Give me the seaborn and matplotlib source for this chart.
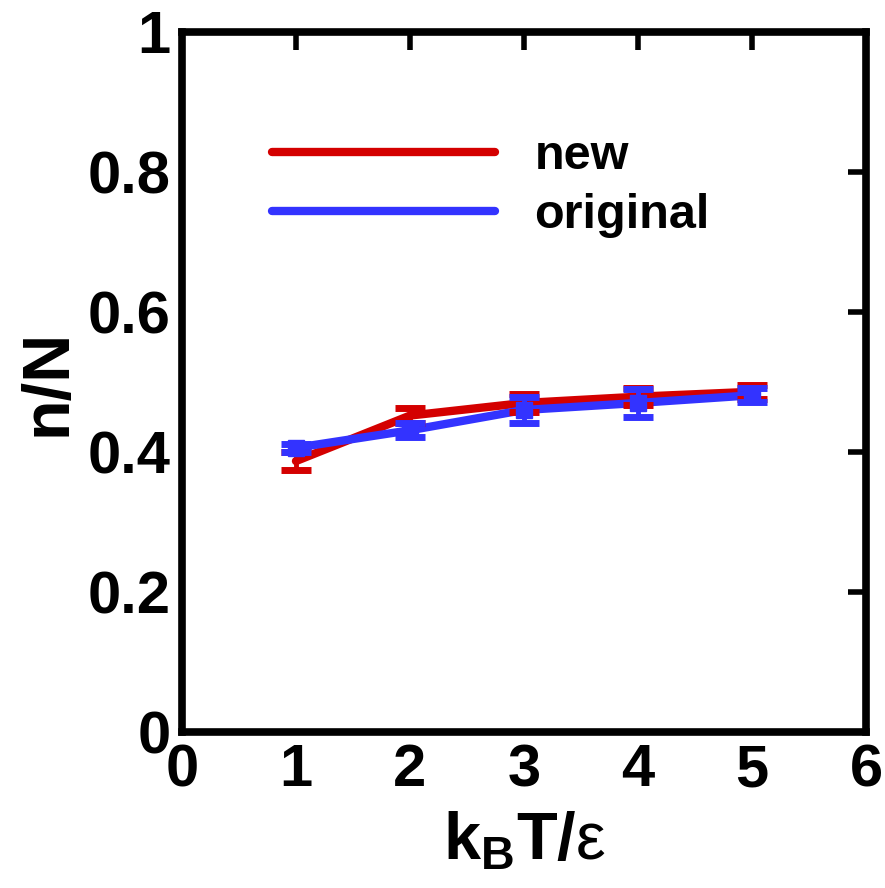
import matplotlib
matplotlib.use("Agg")
import matplotlib.pyplot as plt
import seaborn as sns
import pandas as pd
import numpy as np
from matplotlib import font_manager

# datos
temps = [1, 2, 3, 4, 5]
new_vals = [0.387, 0.452, 0.470, 0.479, 0.486]
new_err = [0.013, 0.011, 0.013, 0.012, 0.010]
orig_vals = [0.406, 0.431, 0.460, 0.470, 0.481]
orig_err = [0.006, 0.010, 0.019, 0.020, 0.010]
xticks = [0, 1, 2, 3, 4, 5, 6]
yticks = [0, 0.2, 0.4, 0.6, 0.8, 1]
ytick_labels = ["0", "0.2", "0.4", "0.6", "0.8", "1"]

sns.set_theme(style="white")
names = {f.name for f in font_manager.fontManager.ttflist}
fam = "Liberation Sans Narrow" if "Liberation Sans Narrow" in names else "Liberation Sans"
plt.rcParams["font.family"] = [fam, "DejaVu Sans"]
plt.rcParams["font.weight"] = "bold"
plt.rcParams["mathtext.fontset"] = "custom"
plt.rcParams["mathtext.rm"] = fam
plt.rcParams["mathtext.bf"] = fam + ":bold"
for k in ["text.color", "axes.labelcolor", "xtick.color", "ytick.color"]:
    plt.rcParams[k] = "black"

red = "#d40000"
blue = "#3333ff"

df = pd.DataFrame({
    "T": temps * 2,
    "n": new_vals + orig_vals,
    "err": new_err + orig_err,
    "serie": ["new"] * 5 + ["original"] * 5,
})

fig = plt.figure(figsize=(8.85, 8.88), dpi=100)
ax = fig.add_axes([0.2056, 0.1757, 0.7729, 0.7883])

sns.lineplot(data=df, x="T", y="n", hue="serie", palette=[red, blue],
             linewidth=6, ax=ax, legend=False)
ax.errorbar(temps, new_vals, yerr=new_err, fmt="none", ecolor=red,
            elinewidth=3.5, capsize=11, capthick=5)
ax.errorbar(temps, orig_vals, yerr=orig_err, fmt="s", color=blue, ms=11,
            ecolor=blue, elinewidth=3.5, capsize=11, capthick=5)

ax.plot([], [], color=red, lw=6, label="new")
ax.plot([], [], color=blue, lw=6, label="original")
leg = ax.legend(loc="upper left", bbox_to_anchor=(0.103, 0.882), frameon=False,
                fontsize=35, handlelength=4.6, handletextpad=0.8,
                labelspacing=0.28, borderaxespad=0)

ax.set_xlim(0, 6)
ax.set_ylim(0, 1)
ax.set_xticks(xticks)
ax.set_yticks(yticks)
ax.set_yticklabels(ytick_labels)
ax.tick_params(direction="in", length=13, width=4, labelsize=43,
               top=True, right=True, pad=8)
for lab in ax.get_xticklabels() + ax.get_yticklabels():
    lab.set_fontweight("bold")
for s in ax.spines.values():
    s.set_linewidth(5.5)
    s.set_color("black")

ax.set_ylabel("n/N", fontsize=48, fontweight="bold", labelpad=6)
ax.set_xlabel(r"$\mathbf{k_B T}/\mathregular{ε}$", fontsize=48, labelpad=9)

fig.savefig("out.png", dpi=100)
